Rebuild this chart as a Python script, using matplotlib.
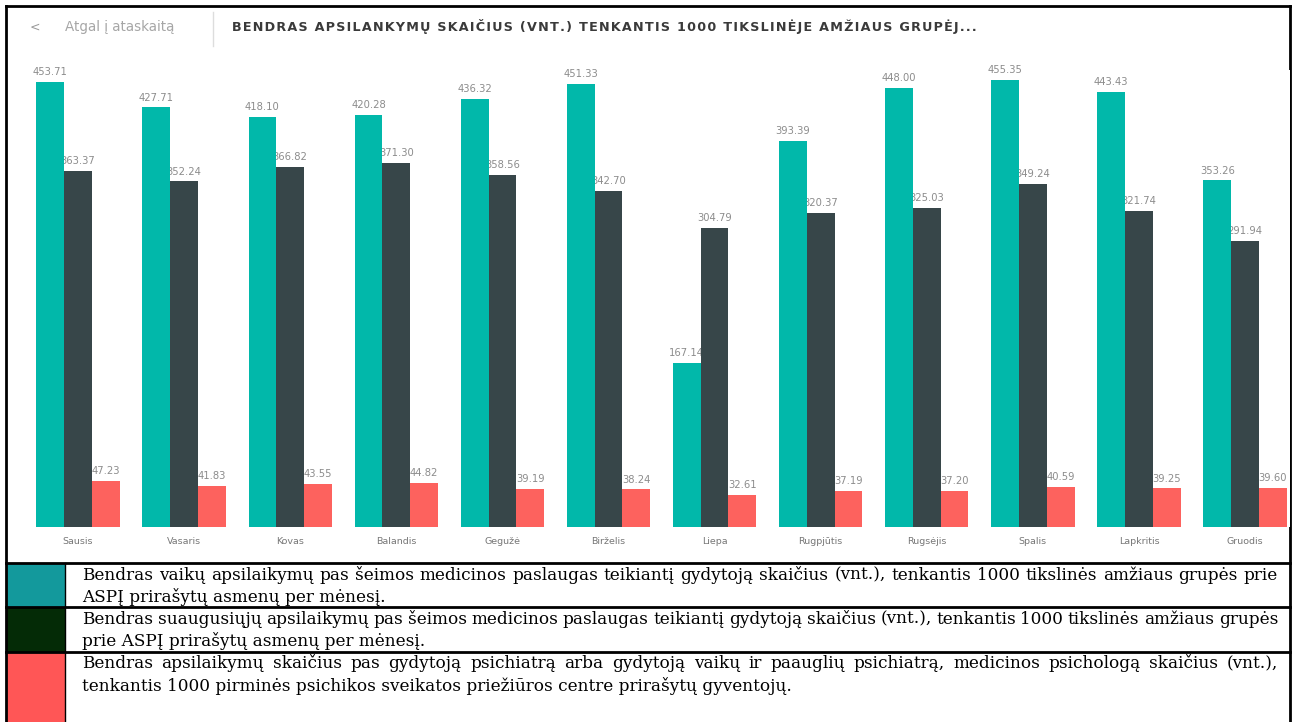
import numpy as np
import matplotlib.pyplot as plt
from matplotlib.patches import Rectangle

# Data
months = ['Sausis', 'Vasaris', 'Kovas', 'Balandis', 'Gegužė', 'Birželis',
          'Liepa', 'Rugpjūtis', 'Rugsėjis', 'Spalis', 'Lapkritis', 'Gruodis']
vaikai = [453.71, 427.71, 418.10, 420.28, 436.32, 451.33,
          167.14, 393.39, 448.00, 455.35, 443.43, 353.26]
suauge = [363.37, 352.24, 366.82, 371.30, 358.56, 342.70,
          304.79, 320.37, 325.03, 349.24, 321.74, 291.94]
psich = [47.23, 41.83, 43.55, 44.82, 39.19, 38.24,
         32.61, 37.19, 37.20, 40.59, 39.25, 39.60]

title = 'BENDRAS APSILANKYMŲ SKAIČIUS (VNT.) TENKANTIS 1000 TIKSLINĖJE AMŽIAUS GRUPĖJ...'
back_txt = 'Atgal į ataskaitą'
legend_rows = [
    ['Bendras vaikų apsilaikymų pas šeimos medicinos paslaugas teikiantį gydytoją skaičius (vnt.), tenkantis 1000 tikslinės amžiaus grupės prie',
     'ASPĮ prirašytų asmenų per mėnesį.'],
    ['Bendras suaugusiųjų apsilaikymų pas šeimos medicinos paslaugas teikiantį gydytoją skaičius (vnt.), tenkantis 1000 tikslinės amžiaus grupės',
     'prie ASPĮ prirašytų asmenų per mėnesį.'],
    ['Bendras apsilaikymų skaičius pas gydytoją psichiatrą arba gydytoją vaikų ir paauglių psichiatrą, medicinos psichologą skaičius (vnt.),',
     'tenkantis 1000 pirminės psichikos sveikatos priežiūros centre prirašytų gyventojų.'],
]

bar_colors = ['#01b8aa', '#374649', '#fd625e']
swatch_colors = ['#13999c', '#042b06', '#ff5656']

W, H = 1297, 722
fig = plt.figure(figsize=(W / 100, H / 100), dpi=100)
renderer = fig.canvas.get_renderer()

# overlay in pixel coordinates for the frame / table
ov = fig.add_axes([0, 0, 1, 1])
ov.set_xlim(0, W)
ov.set_ylim(H, 0)
ov.axis('off')


def fit_text(x, y, s, width, size, sep='', **kw):
    # text squeezed into a given pixel width
    s = sep.join(s) if sep else s
    t = ov.text(x, y, s, fontsize=size, va='center', **kw)
    w = t.get_window_extent(renderer).width
    t.set_fontsize(size * width / w)
    return t


def justify(x, y, s, width, size, **kw):
    words = s.split(' ')
    ts = [ov.text(0, y, wd, fontsize=size, va='center', **kw) for wd in words]
    ws = [t.get_window_extent(renderer).width for t in ts]
    gap = (width - sum(ws)) / (len(words) - 1)
    pos = x
    for t, w in zip(ts, ws):
        t.set_x(pos)
        pos += w + gap


# chart frame
ov.plot([6, 1290], [6, 6], color='black', lw=2)
ov.plot([6, 6], [6, 722], color='black', lw=2)
ov.plot([1290, 1290], [6, 722], color='black', lw=2)

# power bi header
ov.text(30, 27, '<', color='#999999', fontsize=9, va='center')
fit_text(65, 27, back_txt, 110, 8.5, color='#a6a6a6')
ov.plot([213, 213], [12, 46], color='#dddddd', lw=1)
fit_text(232, 27, title, 753, 8, sep='\u200a', color='#3a3a3a', fontweight='bold')

# table legend
row_tops = [563, 607, 652, 722]
for k in range(3):
    ov.plot([6, 1290], [row_tops[k], row_tops[k]], color='black', lw=2)
    ov.add_patch(Rectangle((6, row_tops[k]), 59, row_tops[k + 1] - row_tops[k],
                           color=swatch_colors[k], lw=0))
ov.plot([65, 65], [563, 722], color='black', lw=1)

serif = 'DejaVu Serif'
probe = ov.text(0, 0, legend_rows[0][0], family=serif, fontsize=10)
fs = 10 * 1190 / probe.get_window_extent(renderer).width
probe.remove()
for k, lines in enumerate(legend_rows):
    y0 = row_tops[k] + 12
    justify(82, y0, lines[0], 1196, fs, family=serif)
    ov.text(82, y0 + 22, lines[1], family=serif, fontsize=fs, va='center')

# bar chart
ax = fig.add_axes([25 / W, (H - 527) / H, (1290 - 25) / W, (527 - 70) / H])
x = np.arange(len(months))
bw = 0.262
x0 = (25 - 78) / 106.1
x1 = (1290 - 78) / 106.1
ax.set_xlim(x0, x1)
ax.set_ylim(0, (527 - 70) / 0.981)

for j, vals in enumerate([vaikai, suauge, psich]):
    pos = x + (j - 1) * bw
    ax.bar(pos, vals, bw, color=bar_colors[j], zorder=3)
    for p, v in zip(pos, vals):
        ax.text(p, v + 5, f'{v:.2f}', ha='center', va='bottom', fontsize=7.2,
                color='#8c8c8c', zorder=2)

ax.set_xticks(x)
ax.set_xticklabels(months, fontsize=6.8, color='#777777')
ax.tick_params(axis='x', length=0, pad=7)
ax.set_yticks([])
for s in ax.spines.values():
    s.set_visible(False)

fig.savefig('out.png', dpi=100)
